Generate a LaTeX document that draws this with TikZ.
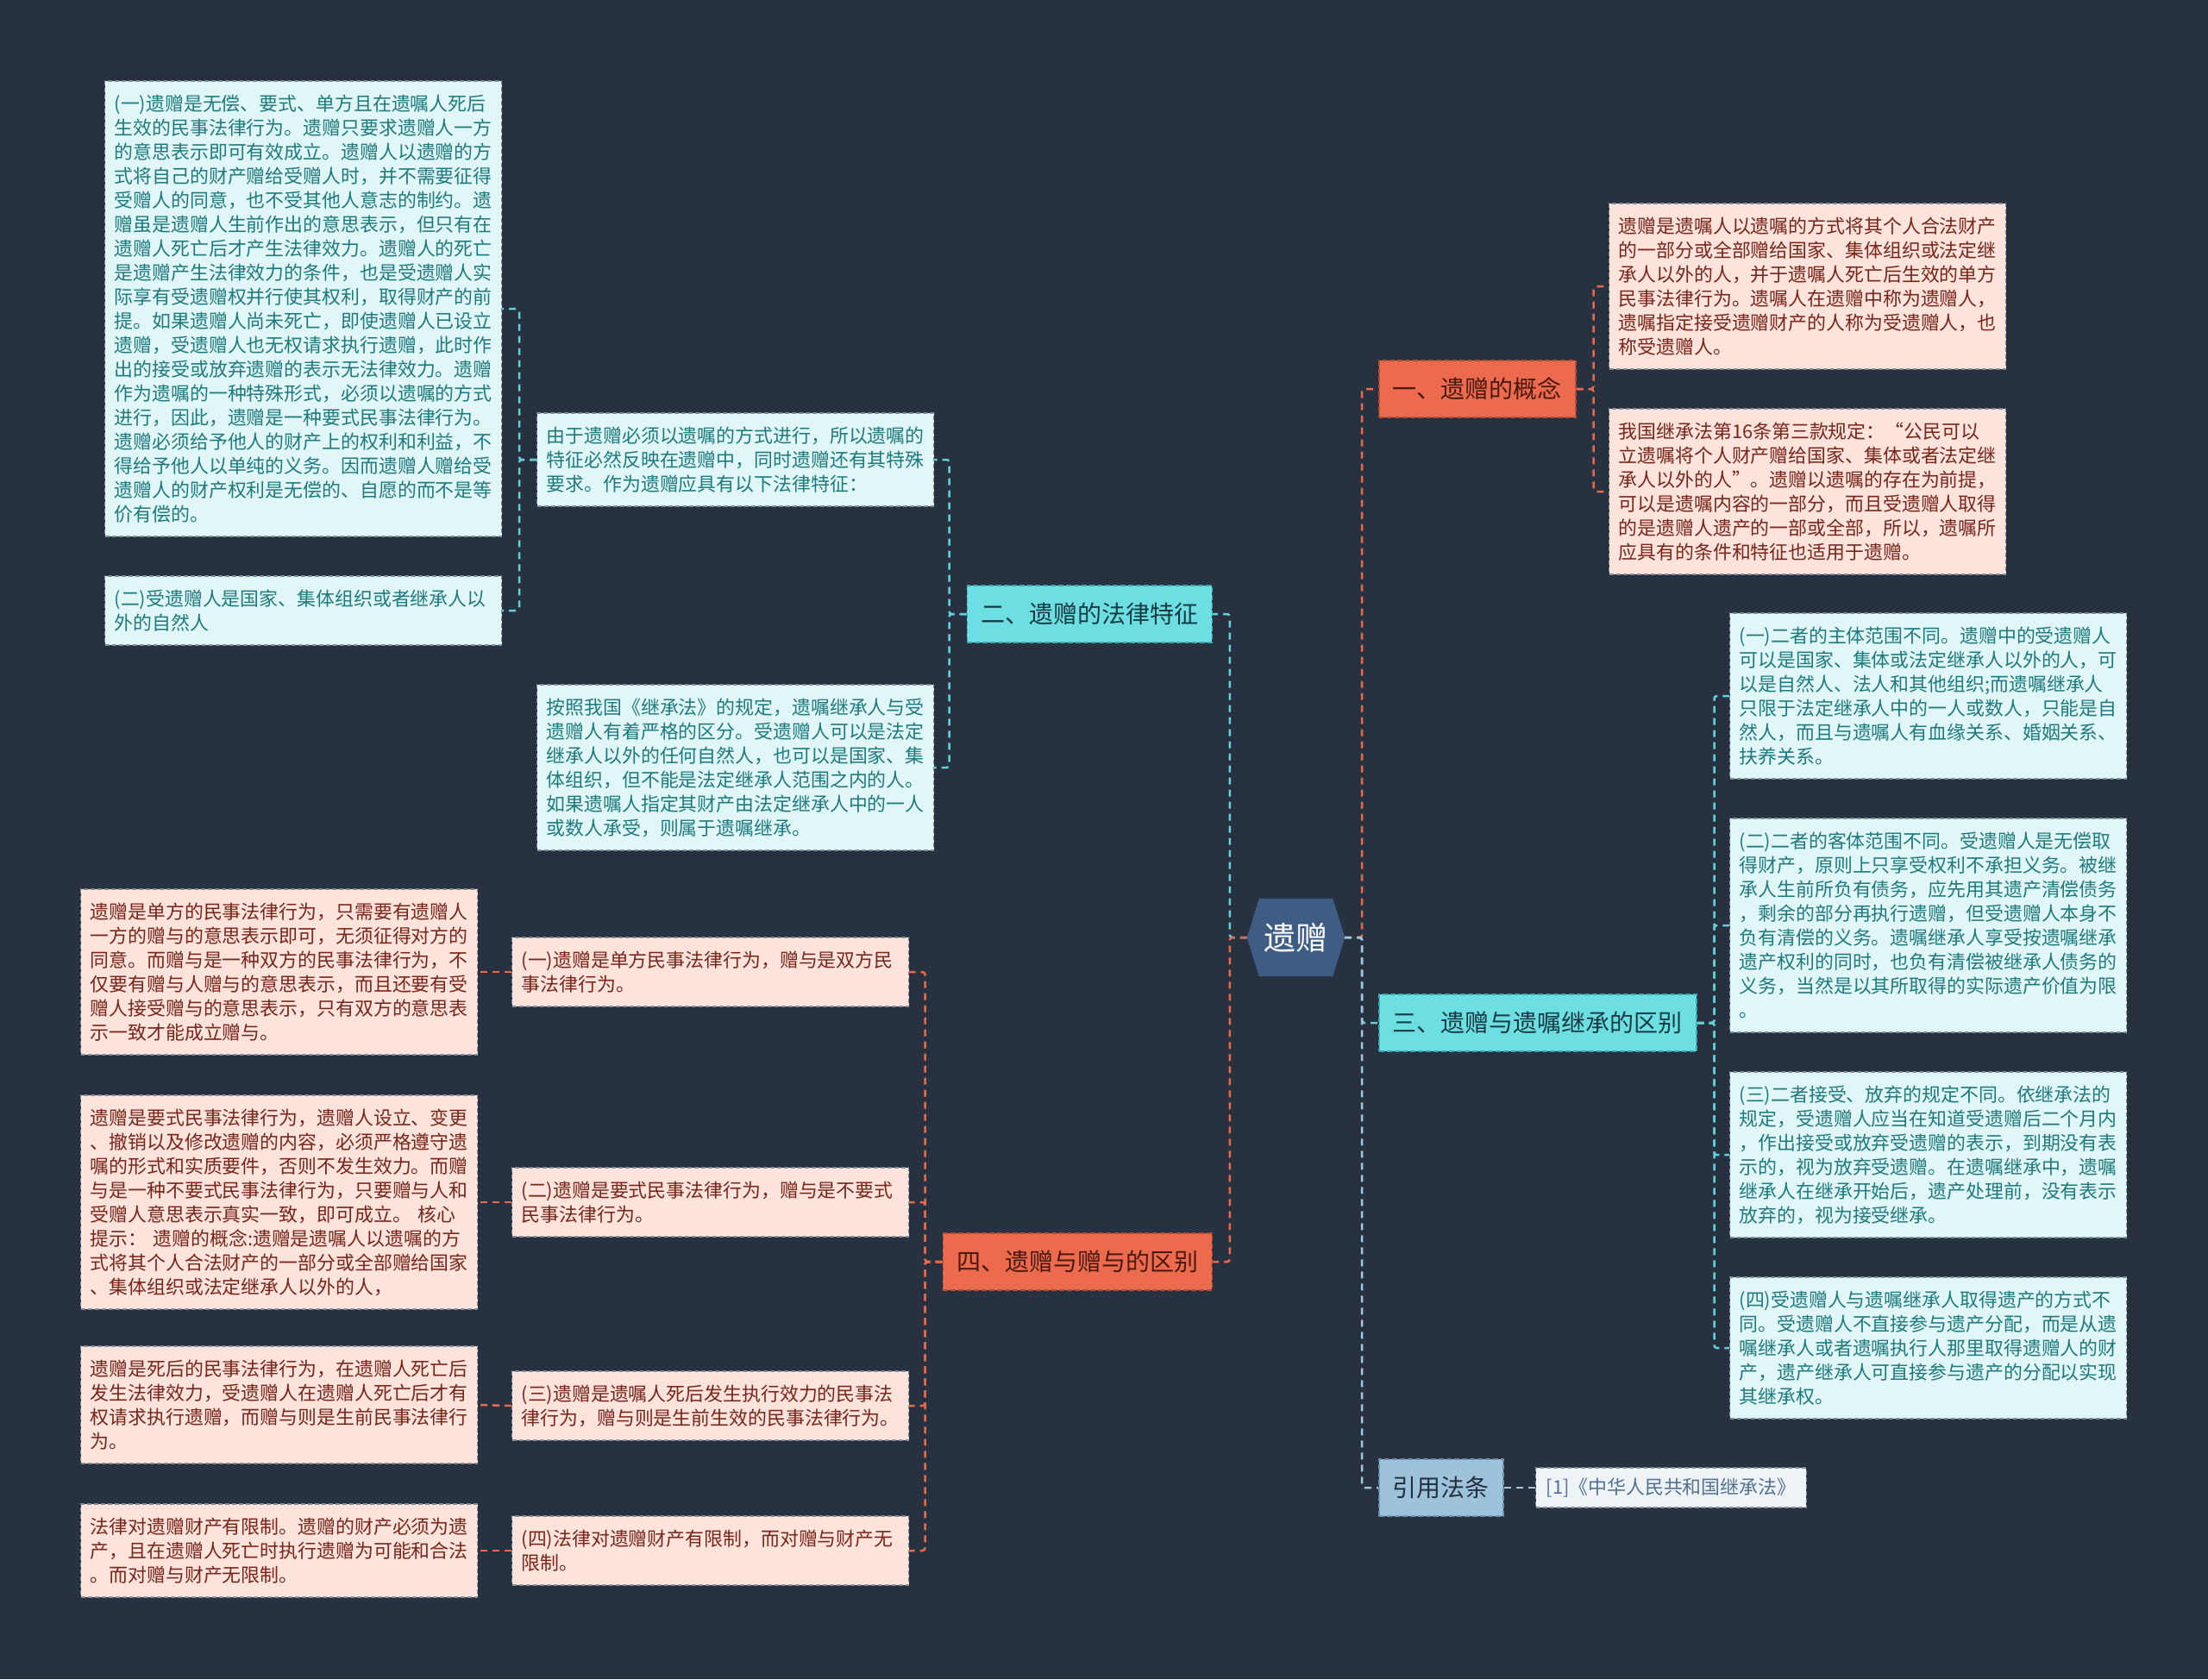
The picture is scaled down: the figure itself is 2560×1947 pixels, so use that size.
\documentclass[tikz,border=0pt]{standalone}
\usepackage{fontspec}
\setmainfont{Noto Sans CJK SC}
\usetikzlibrary{calc}
\definecolor{bg}{HTML}{28313F}
\definecolor{cfill}{HTML}{E1F7F7}
\definecolor{ctext}{HTML}{1E7A7E}
\definecolor{pfill}{HTML}{FCE3DC}
\definecolor{ptext}{HTML}{7A2519}
\definecolor{bordergray}{HTML}{7F8E96}
\definecolor{redfill}{HTML}{EC6B4E}
\definecolor{redtext}{HTML}{4A1910}
\definecolor{redborder}{HTML}{B24C36}
\definecolor{cyanfill}{HTML}{6DDFE3}
\definecolor{cyantext}{HTML}{173B42}
\definecolor{cyanborder}{HTML}{3BA8B2}
\definecolor{bluefill}{HTML}{9DC3DC}
\definecolor{bluetext}{HTML}{24303E}
\definecolor{blueborder}{HTML}{6D92AC}
\definecolor{reffill}{HTML}{EEF3F7}
\definecolor{reftext}{HTML}{52708F}
\definecolor{hexfill}{HTML}{3E5C84}
\definecolor{redline}{HTML}{E9694B}
\definecolor{cyanline}{HTML}{62D2DA}
\definecolor{blueline}{HTML}{A3C6E2}
\tikzset{
  basebox/.style={rectangle, align=left, text width=438pt, inner xsep=11pt, inner ysep=0pt,
    font=\fontsize{21.9pt}{28pt}\selectfont, line width=1.2pt, dash pattern=on 5pt off 3pt, anchor=west},
  cbox/.style={basebox, fill=cfill, draw=bordergray, text=ctext},
  pbox/.style={basebox, fill=pfill, draw=bordergray, text=ptext},
  lvl/.style={rectangle, inner xsep=16pt, inner ysep=0pt, minimum height=66pt,
    font=\fontsize{28pt}{34pt}\selectfont, line width=1.5pt, dash pattern=on 6pt off 3pt},
  redlvl/.style={lvl, fill=redfill, draw=redborder, text=redtext},
  cyanlvl/.style={lvl, fill=cyanfill, draw=cyanborder, text=cyantext},
  bluelvl/.style={lvl, fill=bluefill, draw=blueborder, text=bluetext},
  refbox/.style={rectangle, inner xsep=12pt, inner ysep=0pt, minimum height=46pt, anchor=west,
    font=\fontsize{21.9pt}{28pt}\selectfont, fill=reffill, draw=bordergray, text=reftext,
    line width=1.2pt, dash pattern=on 5pt off 3pt},
  conn/.style={line width=2.5pt, dash pattern=on 8pt off 6pt, rounded corners=3pt},
}
\begin{document}
\begin{tikzpicture}[x=1pt,y=-1pt]
\useasboundingbox (0,0) rectangle (2560,1947);
\fill[bg] (0,0) rectangle (2560,1947);

% root
\node[minimum width=113pt, minimum height=90pt, inner sep=0pt] (root) at (1502.5,1087) {};
\fill[hexfill] (root.west) -- ([xshift=14pt]root.north west) -- ([xshift=-14pt]root.north east) -- (root.east) -- ([xshift=-14pt]root.south east) -- ([xshift=14pt]root.south west) -- cycle;
\node[text=white, font=\fontsize{37pt}{40pt}\selectfont, inner sep=0pt] (rootlabel) at (root.center) {遗赠};

% level 1
\node[redlvl, anchor=west] (n1) at (1598,451) {一、遗赠的概念};
\node[cyanlvl, anchor=east] (n2) at (1406,712) {二、遗赠的法律特征};
\node[cyanlvl, anchor=west] (n3) at (1598,1186) {三、遗赠与遗嘱继承的区别};
\node[redlvl, anchor=east] (n4) at (1406,1463) {四、遗赠与赠与的区别};
\node[bluelvl, anchor=west] (ref) at (1598,1725) {引用法条};

% branch 二
\node[cbox, minimum height=528pt] (A) at (121,358) {(一)遗赠是无偿、要式、单方且在遗嘱人死后\\生效的民事法律行为。遗赠只要求遗赠人一方\\的意思表示即可有效成立。遗赠人以遗赠的方\\式将自己的财产赠给受赠人时，并不需要征得\\受赠人的同意，也不受其他人意志的制约。遗\\赠虽是遗赠人生前作出的意思表示，但只有在\\遗赠人死亡后才产生法律效力。遗赠人的死亡\\是遗赠产生法律效力的条件，也是受遗赠人实\\际享有受遗赠权并行使其权利，取得财产的前\\提。如果遗赠人尚未死亡，即使遗赠人已设立\\遗赠，受遗赠人也无权请求执行遗赠，此时作\\出的接受或放弃遗赠的表示无法律效力。遗赠\\作为遗嘱的一种特殊形式，必须以遗嘱的方式\\进行，因此，遗赠是一种要式民事法律行为。\\遗赠必须给予他人的财产上的权利和利益，不\\得给予他人以单纯的义务。因而遗赠人赠给受\\遗赠人的财产权利是无偿的、自愿的而不是等\\价有偿的。};
\node[cbox, minimum height=80pt] (B) at (121,708) {(二)受遗赠人是国家、集体组织或者继承人以\\外的自然人};
\node[cbox, minimum height=108pt] (C) at (622,533) {由于遗赠必须以遗嘱的方式进行，所以遗嘱的\\特征必然反映在遗赠中，同时遗赠还有其特殊\\要求。作为遗赠应具有以下法律特征：};
\node[cbox, minimum height=192pt] (D) at (622,890) {按照我国《继承法》的规定，遗嘱继承人与受\\遗赠人有着严格的区分。受遗赠人可以是法定\\继承人以外的任何自然人，也可以是国家、集\\体组织，但不能是法定继承人范围之内的人。\\如果遗嘱人指定其财产由法定继承人中的一人\\或数人承受，则属于遗嘱继承。};

% branch 四
\node[pbox, minimum height=192pt] (E) at (93,1127) {遗赠是单方的民事法律行为，只需要有遗赠人\\一方的赠与的意思表示即可，无须征得对方的\\同意。而赠与是一种双方的民事法律行为，不\\仅要有赠与人赠与的意思表示，而且还要有受\\赠人接受赠与的意思表示，只有双方的意思表\\示一致才能成立赠与。};
\node[pbox, minimum height=80pt] (F) at (593,1127) {(一)遗赠是单方民事法律行为，赠与是双方民\\事法律行为。};
\node[pbox, minimum height=248pt] (G) at (93,1394) {遗赠是要式民事法律行为，遗赠人设立、变更\\、撤销以及修改遗赠的内容，必须严格遵守遗\\嘱的形式和实质要件，否则不发生效力。而赠\\与是一种不要式民事法律行为，只要赠与人和\\受赠人意思表示真实一致，即可成立。 核心\\提示：  遗赠的概念:遗赠是遗嘱人以遗嘱的方\\式将其个人合法财产的一部分或全部赠给国家\\、集体组织或法定继承人以外的人，};
\node[pbox, minimum height=80pt] (H) at (593,1394) {(二)遗赠是要式民事法律行为，赠与是不要式\\民事法律行为。};
\node[pbox, minimum height=136pt] (I) at (93,1629) {遗赠是死后的民事法律行为，在遗赠人死亡后\\发生法律效力，受遗赠人在遗赠人死亡后才有\\权请求执行遗赠，而赠与则是生前民事法律行\\为。};
\node[pbox, minimum height=80pt] (J) at (593,1630) {(三)遗赠是遗嘱人死后发生执行效力的民事法\\律行为，赠与则是生前生效的民事法律行为。};
\node[pbox, minimum height=108pt] (K) at (93,1798) {法律对遗赠财产有限制。遗赠的财产必须为遗\\产，且在遗赠人死亡时执行遗赠为可能和合法\\。而对赠与财产无限制。};
\node[pbox, minimum height=80pt] (L) at (593,1798) {(四)法律对遗赠财产有限制，而对赠与财产无\\限制。};

% branch 一
\node[pbox, minimum height=192pt] (M) at (1865,332) {遗赠是遗嘱人以遗嘱的方式将其个人合法财产\\的一部分或全部赠给国家、集体组织或法定继\\承人以外的人，并于遗嘱人死亡后生效的单方\\民事法律行为。遗嘱人在遗赠中称为遗赠人，\\遗嘱指定接受遗赠财产的人称为受遗赠人，也\\称受遗赠人。};
\node[pbox, minimum height=192pt] (N) at (1865,570) {我国继承法第16条第三款规定：“公民可以\\立遗嘱将个人财产赠给国家、集体或者法定继\\承人以外的人”。遗赠以遗嘱的存在为前提，\\可以是遗嘱内容的一部分，而且受遗赠人取得\\的是遗赠人遗产的一部或全部，所以，遗嘱所\\应具有的条件和特征也适用于遗赠。};

% branch 三
\node[cbox, minimum height=192pt] (O) at (2005,807) {(一)二者的主体范围不同。遗赠中的受遗赠人\\可以是国家、集体或法定继承人以外的人，可\\以是自然人、法人和其他组织;而遗嘱继承人\\只限于法定继承人中的一人或数人，只能是自\\然人，而且与遗嘱人有血缘关系、婚姻关系、\\扶养关系。};
\node[cbox, minimum height=248pt] (P) at (2005,1073) {(二)二者的客体范围不同。受遗赠人是无偿取\\得财产，原则上只享受权利不承担义务。被继\\承人生前所负有债务，应先用其遗产清偿债务\\，剩余的部分再执行遗赠，但受遗赠人本身不\\负有清偿的义务。遗嘱继承人享受按遗嘱继承\\遗产权利的同时，也负有清偿被继承人债务的\\义务，当然是以其所取得的实际遗产价值为限\\。};
\node[cbox, minimum height=192pt] (Q) at (2005,1339) {(三)二者接受、放弃的规定不同。依继承法的\\规定，受遗赠人应当在知道受遗赠后二个月内\\，作出接受或放弃受遗赠的表示，到期没有表\\示的，视为放弃受遗赠。在遗嘱继承中，遗嘱\\继承人在继承开始后，遗产处理前，没有表示\\放弃的，视为接受继承。};
\node[cbox, minimum height=164pt] (R) at (2005,1563) {(四)受遗赠人与遗嘱继承人取得遗产的方式不\\同。受遗赠人不直接参与遗产分配，而是从遗\\嘱继承人或者遗嘱执行人那里取得遗赠人的财\\产，遗产继承人可直接参与遗产的分配以实现\\其继承权。};

% reference
\node[refbox] (S) at (1780,1725) {[1]《中华人民共和国继承法》};

% connectors: root
\draw[conn, cyanline] (root.west) -- ++(-20,0) |- (n2.east);
\draw[conn, redline] (root.west) -- ++(-20,0) |- (n4.east);
\draw[conn, redline] (root.east) -- ++(20,0) |- (n1.west);
\draw[conn, cyanline] (root.east) -- ++(20,0) |- (n3.west);
\draw[conn, blueline] (root.east) -- ++(20,0) |- (ref.west);

% 二
\draw[conn, cyanline] (n2.west) -- ++(-20,0) |- (C.east);
\draw[conn, cyanline] (n2.west) -- ++(-20,0) |- (D.east);
\draw[conn, cyanline] (C.west) -- ++(-20,0) |- (A.east);
\draw[conn, cyanline] (C.west) -- ++(-20,0) |- (B.east);

% 四
\draw[conn, redline] (n4.west) -- ++(-20,0) |- (F.east);
\draw[conn, redline] (n4.west) -- ++(-20,0) |- (H.east);
\draw[conn, redline] (n4.west) -- ++(-20,0) |- (J.east);
\draw[conn, redline] (n4.west) -- ++(-20,0) |- (L.east);
\draw[conn, redline] (F.west) -- (E.east);
\draw[conn, redline] (H.west) -- (G.east);
\draw[conn, redline] (J.west) -- (I.east);
\draw[conn, redline] (L.west) -- (K.east);

% 一
\draw[conn, redline] (n1.east) -- ++(20,0) |- (M.west);
\draw[conn, redline] (n1.east) -- ++(20,0) |- (N.west);

% 三
\draw[conn, cyanline] (n3.east) -- ++(20,0) |- (O.west);
\draw[conn, cyanline] (n3.east) -- ++(20,0) |- (P.west);
\draw[conn, cyanline] (n3.east) -- ++(20,0) |- (Q.west);
\draw[conn, cyanline] (n3.east) -- ++(20,0) |- (R.west);

% 引用
\draw[conn, blueline] (ref.east) -- (S.west);
\end{tikzpicture}
\end{document}
